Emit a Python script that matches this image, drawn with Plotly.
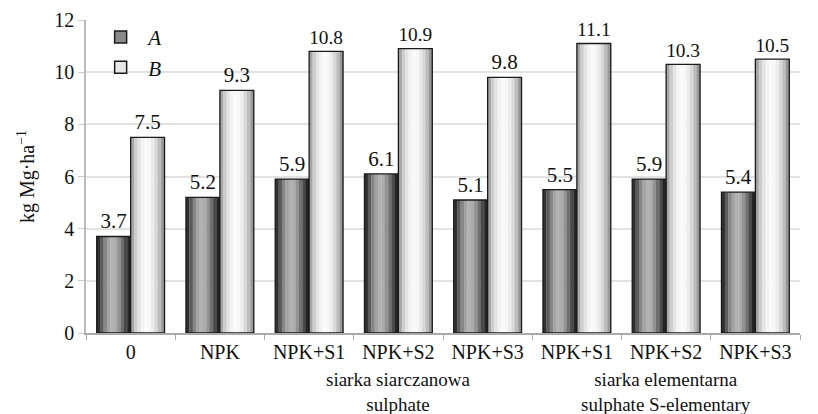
import plotly.graph_objects as go

categories = ["0", "NPK", "NPK+S1", "NPK+S2", "NPK+S3", "NPK+S1", "NPK+S2", "NPK+S3"]
series_A = [3.7, 5.2, 5.9, 6.1, 5.1, 5.5, 5.9, 5.4]
series_B = [7.5, 9.3, 10.8, 10.9, 9.8, 11.1, 10.3, 10.5]
y_ticks = [0, 2, 4, 6, 8, 10, 12]
group_notes = [(3, "siarka siarczanowa<br>sulphate"), (6, "siarka elementarna<br>sulphate S-elementary")]

FONT = "'Liberation Serif', 'Times New Roman', serif"
x = list(range(len(categories)))
W = 0.38  # bar width in category units

shade_A = ['#303030', '#5c5c5c', '#868686', '#a4a4a4', '#b2b2b2', '#acacac', '#939393', '#707070', '#4a4a4a', '#262626']
shade_B = ['#a6a6a6', '#cdcdcd', '#e4e4e4', '#f3f3f3', '#fafafa', '#f7f7f7', '#ececec', '#d8d8d8', '#bdbdbd', '#989898']

fig = go.Figure()

def add_cylinder(values, shades, base_offset, name, legend_color):
    n = len(shades)
    sw = W / n
    for k, c in enumerate(shades):
        fig.add_trace(go.Bar(
            x=x, y=values, width=sw * 1.08, offset=base_offset + k * sw,
            marker=dict(color=c, line=dict(width=0)),
            showlegend=False, hoverinfo="skip"))
    fig.add_trace(go.Bar(
        x=x, y=values, width=W, offset=base_offset,
        marker=dict(color="rgba(0,0,0,0)", line=dict(color="#1a1a1a", width=1.3)),
        text=[f"{v:.1f}" for v in values], textposition="outside",
        textfont=dict(family=FONT, size=21, color="#111"),
        cliponaxis=False, showlegend=False))
    fig.add_trace(go.Bar(
        x=[None], y=[None], name=name,
        marker=dict(color=legend_color, line=dict(color="#1a1a1a", width=1.5))))

add_cylinder(series_A, shade_A, -W, "A", "#8a8a8a")
add_cylinder(series_B, shade_B, 0.0, "B", "#e8e8e8")

for idx, txt in group_notes:
    fig.add_annotation(x=idx, y=0, xref="x", yref="y", yshift=-34, text=txt,
                       showarrow=False, yanchor="top",
                       font=dict(family=FONT, size=19, color="#111"))

# page body has an 8px margin, so the figure is sized 8px smaller
fig.update_layout(
    width=810, height=406,
    margin=dict(l=78, r=18, t=9, b=81),
    paper_bgcolor="white", plot_bgcolor="white",
    barmode="overlay",
    font=dict(family=FONT, size=19, color="#111"),
    legend=dict(x=0.01, y=1.01, xanchor="left", yanchor="top",
                font=dict(family=FONT, size=21, style="italic"),
                bgcolor="rgba(0,0,0,0)", tracegroupgap=0, itemwidth=45),
    xaxis=dict(
        tickmode="array", tickvals=x, ticktext=categories,
        range=[-0.5, len(categories) - 0.5],
        showgrid=False, showline=True, linecolor="#aaaaaa", linewidth=1.5,
        ticks="", tickfont=dict(family=FONT, size=20), automargin=False,
        minor=dict(tickvals=[i + 0.5 for i in range(-1, len(categories))],
                   ticks="outside", ticklen=5, tickcolor="#aaaaaa"),
        zeroline=False,
    ),
    yaxis=dict(
        range=[0, 12], tickvals=y_ticks, automargin=False,
        ticklabeloverflow="allow",
        showgrid=True, gridcolor="#e2e2e2", gridwidth=1.5,
        showline=True, linecolor="#bbbbbb", linewidth=1.5,
        ticks="outside", ticklen=6, tickcolor="#cccccc",
        tickfont=dict(family=FONT, size=20),
        zeroline=False,
        title=dict(text="kg Mg·ha<sup>−1</sup>", font=dict(family=FONT, size=20), standoff=14),
    ),
)

fig.write_html("out.html")
